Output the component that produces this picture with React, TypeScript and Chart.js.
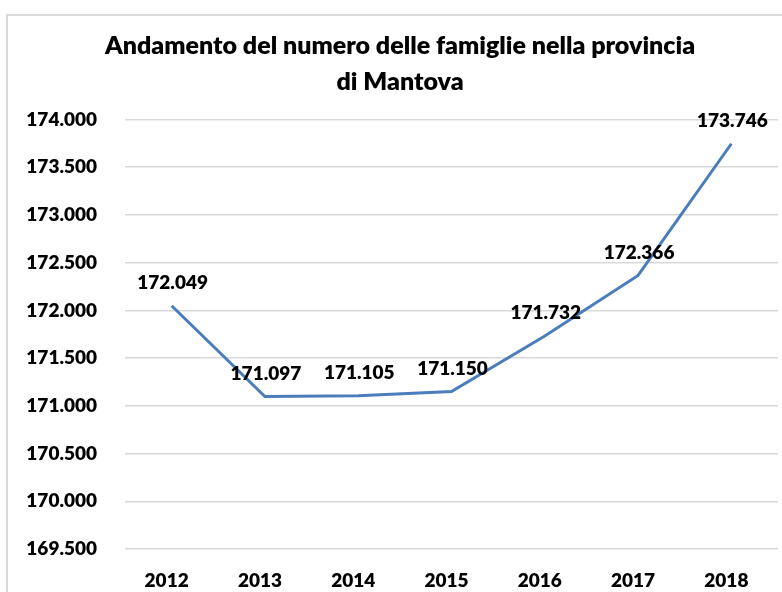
import React, { useEffect, useRef } from 'react';
import { Chart, registerables } from 'chart.js';

Chart.register(...registerables);

const TITLE_LINES = ['Andamento del numero delle famiglie nella provincia', 'di Mantova'];
const YEARS = ['2012', '2013', '2014', '2015', '2016', '2017', '2018'];
const FAMILIES = [172049, 171097, 171105, 171150, 171732, 172366, 173746];
const Y_MIN = 169500;
const Y_MAX = 174000;
const Y_STEP = 500;

const FONT = '"Lato", "Carlito", "Liberation Sans", sans-serif';
const WEIGHT = '800';

const fmt = (v: number): string => {
  const t = Math.floor(v / 1000);
  const r = Math.round(v - t * 1000);
  return t + '.' + String(r).padStart(3, '0');
};

const framePlugin = {
  id: 'frame',
  beforeDraw(chart: any) {
    const ctx = chart.ctx;
    ctx.save();
    ctx.fillStyle = '#ffffff';
    ctx.fillRect(0, 0, chart.width, chart.height);
    ctx.strokeStyle = '#d9d9d9';
    ctx.lineWidth = 2;
    ctx.strokeRect(7, 15, chart.width + 50, chart.height + 50);
    ctx.restore();
  },
};

const titlePlugin = {
  id: 'customTitle',
  afterDraw(chart: any) {
    const ctx = chart.ctx;
    ctx.save();
    ctx.fillStyle = '#000000';
    ctx.font = `${WEIGHT} 25px ${FONT}`;
    ctx.textAlign = 'center';
    ctx.textBaseline = 'middle';
    ctx.fillText(TITLE_LINES[0], 400, 46);
    ctx.fillText(TITLE_LINES[1], 400, 82);
    ctx.restore();
  },
};

const valueLabelPlugin = {
  id: 'valueLabels',
  afterDatasetsDraw(chart: any) {
    const ctx = chart.ctx;
    const meta = chart.getDatasetMeta(0);
    const data = chart.data.datasets[0].data as number[];
    ctx.save();
    ctx.fillStyle = '#000000';
    ctx.font = `${WEIGHT} 19px ${FONT}`;
    ctx.textAlign = 'center';
    ctx.textBaseline = 'middle';
    meta.data.forEach((pt: any, i: number) => {
      ctx.fillText(fmt(data[i]), pt.x + 1, pt.y - 23);
    });
    ctx.restore();
  },
};

export default function App() {
  const canvasRef = useRef<HTMLCanvasElement | null>(null);

  useEffect(() => {
    const canvas = canvasRef.current;
    if (!canvas) return;
    const chart = new Chart(canvas, {
      type: 'line',
      data: {
        labels: YEARS,
        datasets: [
          {
            data: FAMILIES,
            borderColor: '#4a7ebb',
            backgroundColor: '#4a7ebb',
            borderWidth: 3,
            pointRadius: 0,
            pointHoverRadius: 0,
            tension: 0,
            fill: false,
          },
        ],
      },
      options: {
        responsive: false,
        animation: false,
        devicePixelRatio: 1,
        layout: { padding: { top: 119.5, right: 4, left: 0, bottom: 0 } },
        plugins: {
          legend: { display: false },
          title: { display: false },
          tooltip: { enabled: false },
        },
        scales: {
          x: {
            type: 'category',
            offset: true,
            grid: { display: false, drawTicks: false },
            border: { display: false },
            ticks: {
              color: '#000000',
              font: { family: FONT, size: 19, weight: WEIGHT },
              padding: 20,
              labelOffset: -5,
              maxRotation: 0,
              autoSkip: false,
            },
            afterFit: (scale: any) => {
              scale.height = 43;
            },
          },
          y: {
            type: 'linear',
            min: Y_MIN,
            max: Y_MAX,
            grid: { color: '#d9d9d9', lineWidth: 1.5, drawTicks: false },
            border: { display: false },
            ticks: {
              stepSize: Y_STEP,
              color: '#000000',
              font: { family: FONT, size: 19, weight: WEIGHT },
              padding: 28,
              callback: (v: any) => fmt(Number(v)),
            },
            afterFit: (scale: any) => {
              scale.width = 125;
            },
          },
        },
      },
      plugins: [framePlugin, titlePlugin, valueLabelPlugin],
    });
    return () => chart.destroy();
  }, []);

  return (
    <div style={{ position: 'fixed', left: 0, top: 0, width: 782, height: 592, background: '#fff' }}>
      <canvas ref={canvasRef} width={782} height={592} style={{ width: 782, height: 592 }} />
    </div>
  );
}
